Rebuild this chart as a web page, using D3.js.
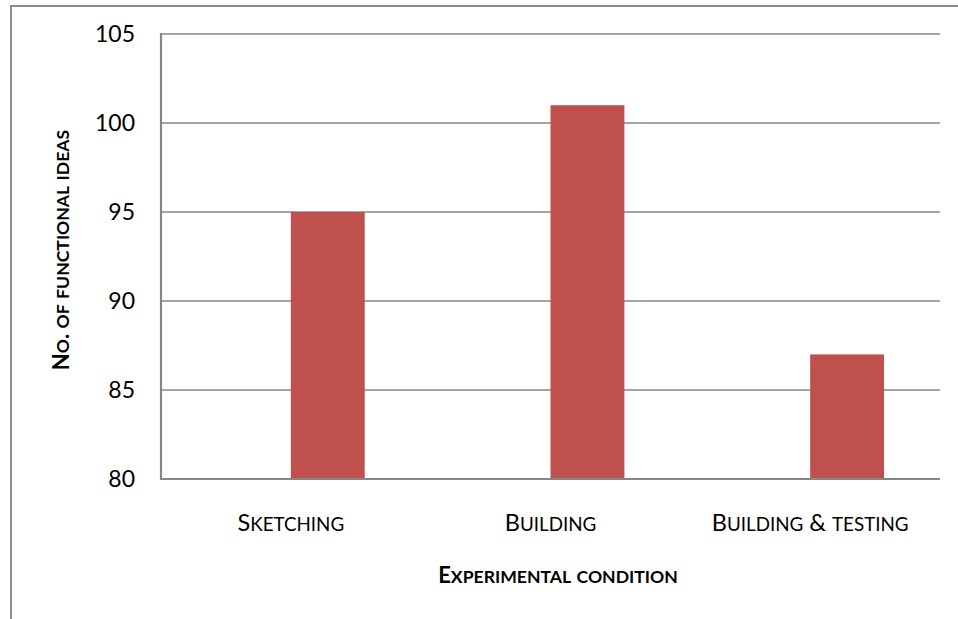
<!DOCTYPE html>
<html>
<head>
<meta charset="utf-8">
<script src="https://cdn.jsdelivr.net/npm/d3@7"></script>
<style>
  html, body { margin: 0; padding: 0; background: #fff; }
  svg { display: block; }
  text { font-family: Lato, "Open Sans", sans-serif; fill: #000; }
</style>
</head>
<body>
<svg id="chart" width="958" height="619"></svg>
<script>
// Experimental conditions along the x axis
const categories = ["Sketching", "Building", "Building & testing"];
// Two clustered series; the first one carries no values, so its slot stays empty
const seriesNames = ["(empty)", "Functional ideas"];
const functionalIdeas = [95, 101, 87];
// Value axis
const yTicks = [80, 85, 90, 95, 100, 105];
const yDomain = [80, 105];
const xTitle = "Experimental condition";
const yTitle = "No. of functional ideas";

const svg = d3.select("#chart");
const W = 958, H = 619;
const plot = { left: 161, right: 940, top: 34, bottom: 479 };

const barColor = "#C0504D";
const axisColor = "#868686";

// Outer chart-area frame (its right and bottom edges fall outside the view)
svg.append("rect")
  .attr("x", 11).attr("y", 6)
  .attr("width", W + 20).attr("height", H + 20)
  .attr("fill", "none").attr("stroke", "#8c8c8c").attr("stroke-width", 2);

const x = d3.scaleBand().domain(categories)
  .range([plot.left, plot.right]).paddingInner(0).paddingOuter(0);
const xSub = d3.scaleBand().domain(seriesNames)
  .range([0, x.bandwidth()]).paddingInner(0).paddingOuter(0.757);
const y = d3.scaleLinear().domain(yDomain).range([plot.bottom, plot.top]);

// Horizontal gridlines
const yAxis = d3.axisLeft(y).tickValues(yTicks).tickSize(0).tickPadding(26).tickFormat(d3.format("d"));
const gy = svg.append("g").attr("transform", `translate(${plot.left},0)`).call(yAxis);
gy.select(".domain").remove();
gy.selectAll("text").attr("font-size", 23).attr("fill", "#000");

svg.append("g").selectAll("line").data(yTicks.filter(v => v !== yDomain[0]))
  .join("line")
  .attr("x1", plot.left).attr("x2", plot.right)
  .attr("y1", d => y(d)).attr("y2", d => y(d))
  .attr("stroke", axisColor).attr("stroke-width", 1.6);

// Bars
const slot = svg.append("g");
slot.selectAll("rect").data(categories.map((c, i) => ({ c, v: functionalIdeas[i] })))
  .join("rect")
  .attr("x", d => x(d.c) + xSub(seriesNames[1]))
  .attr("width", xSub.bandwidth())
  .attr("y", d => y(d.v))
  .attr("height", d => y(yDomain[0]) - y(d.v))
  .attr("fill", barColor);

// Axis lines
svg.append("line")
  .attr("x1", plot.left).attr("x2", plot.left)
  .attr("y1", plot.top - 1).attr("y2", plot.bottom + 1)
  .attr("stroke", axisColor).attr("stroke-width", 2.2);
svg.append("line")
  .attr("x1", plot.left - 1).attr("x2", plot.right)
  .attr("y1", plot.bottom).attr("y2", plot.bottom)
  .attr("stroke", axisColor).attr("stroke-width", 2.2);

// Small-caps text: lowercase letters become reduced capitals
function smallCaps(sel, str, size, ratio) {
  const parts = [];
  for (const ch of str) {
    const small = ch !== ch.toUpperCase();
    const last = parts[parts.length - 1];
    if (last && last.small === small) last.t += ch.toUpperCase();
    else parts.push({ small, t: ch.toUpperCase() });
  }
  sel.selectAll("tspan").data(parts).join("tspan")
    .attr("font-size", d => d.small ? size * ratio : size)
    .text(d => d.t);
}

// Category labels
svg.append("g").selectAll("text").data(categories).join("text")
  .attr("x", d => x(d) + x.bandwidth() / 2)
  .attr("y", 530.5)
  .attr("text-anchor", "middle")
  .each(function (d) { smallCaps(d3.select(this), d, 23.5, 0.8); });

// Axis titles
svg.append("text")
  .attr("x", 558).attr("y", 583)
  .attr("text-anchor", "middle").attr("font-weight", "bold")
  .call(s => smallCaps(s, xTitle, 22, 0.8));

svg.append("text")
  .attr("transform", `translate(69,250) rotate(-90)`)
  .attr("text-anchor", "middle").attr("font-weight", "bold")
  .call(s => smallCaps(s, yTitle, 22, 0.8));
</script>
</body>
</html>
